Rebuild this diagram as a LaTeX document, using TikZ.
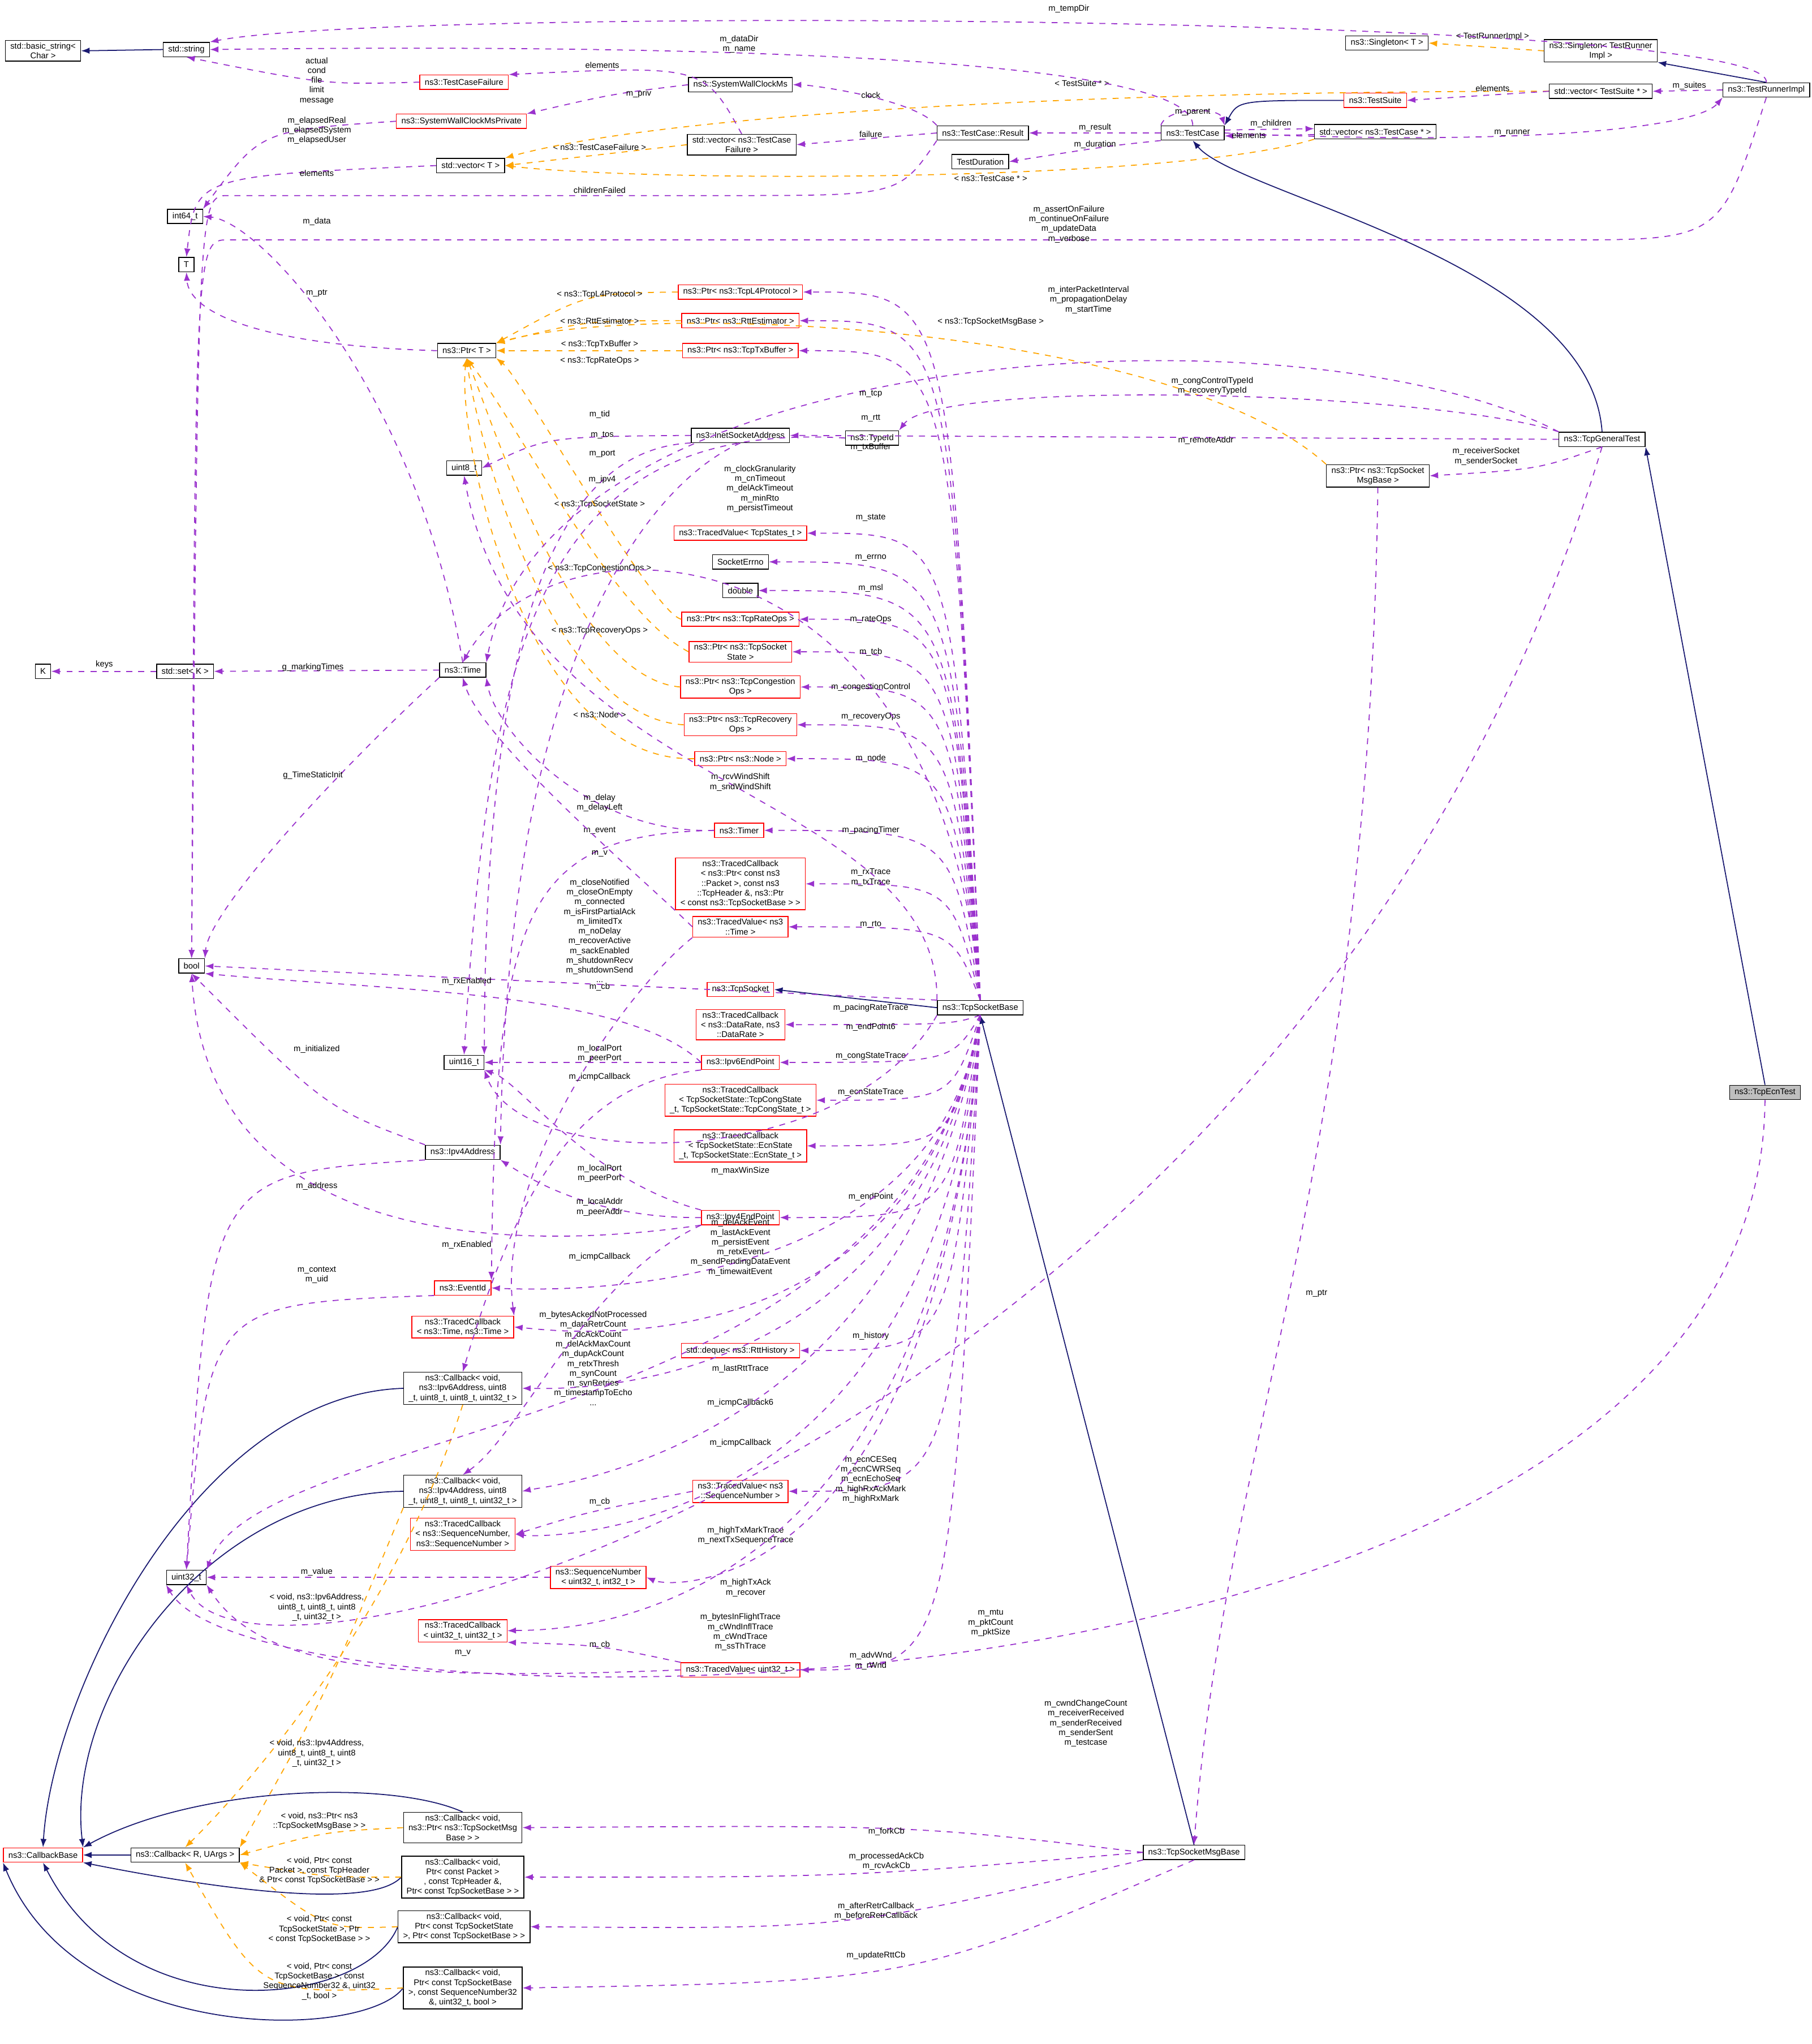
\documentclass[tikz,border=0pt]{standalone}
\usepackage{fontspec}
\setmainfont{Liberation Sans}
\usepackage{tikz}
\usetikzlibrary{arrows.meta}
\definecolor{depcol}{HTML}{9A32CD}
\definecolor{tplcol}{HTML}{FFA500}
\definecolor{inhcol}{HTML}{191970}

\begin{document}
\begin{tikzpicture}[x=0.023cm, y=-0.023cm, line width=0.5pt,
    font=\fontsize{4.2}{4.9}\selectfont,
    cls/.style={draw=black, fill=white, line width=0.4pt, align=center, inner xsep=2.5pt, inner ysep=1.2pt, minimum height=7.2pt},
    clsred/.style={cls, draw=red},
    lbl/.style={align=center, inner sep=0.5pt},
    dep/.style={draw=depcol, dashed, -{Latex[length=1.5mm,width=1.1mm]}},
    tpl/.style={draw=tplcol, dashed, -{Latex[length=1.5mm,width=1.1mm]}},
    inh/.style={draw=inhcol, -{Latex[length=1.5mm,width=1.1mm]}}]
            \useasboundingbox (0,0) rectangle (1390,1568);

            % test framework
            \node[cls] (bstr) at (33,39) {std::basic\_string\textless\\Char \textgreater};
            \node[cls] (str) at (143,38) {std::string};
            \node[clsred] (tcf) at (356,63) {ns3::TestCaseFailure};
            \node[cls] (swc) at (568,65) {ns3::SystemWallClockMs};
            \node[clsred] (swcp) at (354,93) {ns3::SystemWallClockMsPrivate};
            \node[cls] (vtcf) at (569,111) {std::vector\textless{} ns3::TestCase\\Failure \textgreater};
            \node[cls] (res) at (754,102) {ns3::TestCase::Result};
            \node[cls] (vecT) at (361,127) {std::vector\textless{} T \textgreater};
            \node[cls] (i64) at (142,166) {int64\_t};
            \node[cls] (T) at (143,203) {T};
            \node[cls] (tc) at (915,102) {ns3::TestCase};
            \node[cls] (tdur) at (752,124) {TestDuration};
            \node[cls] (vtc) at (1055,101) {std::vector\textless{} ns3::TestCase * \textgreater};
            \node[clsred] (ts) at (1055,77) {ns3::TestSuite};
            \node[cls] (sgT) at (1064,33) {ns3::Singleton\textless{} T \textgreater};
            \node[cls] (sgR) at (1228,39) {ns3::Singleton\textless{} TestRunner\\Impl \textgreater};
            \node[cls] (vts) at (1228,70) {std::vector\textless{} TestSuite * \textgreater};
            \node[cls] (tri) at (1355,69) {ns3::TestRunnerImpl};

            % tcp classes
            \node[cls] (ptrT) at (358,269) {ns3::Ptr\textless{} T \textgreater};
            \node[clsred] (pL4) at (568,224) {ns3::Ptr\textless{} ns3::TcpL4Protocol \textgreater};
            \node[clsred] (pRtt) at (568,246) {ns3::Ptr\textless{} ns3::RttEstimator \textgreater};
            \node[clsred] (pTx) at (568,269) {ns3::Ptr\textless{} ns3::TcpTxBuffer \textgreater};
            \node[cls] (inet) at (568,334) {ns3::InetSocketAddress};
            \node[cls] (tid) at (669,336) {ns3::TypeId};
            \node[cls] (tgt) at (1229,337) {ns3::TcpGeneralTest};
            \node[cls] (pMsg) at (1057,365) {ns3::Ptr\textless{} ns3::TcpSocket\\MsgBase \textgreater};
            \node[cls] (u8) at (356,359) {uint8\_t};
            \node[clsred] (tvSt) at (568,409) {ns3::TracedValue\textless{} TcpStates\_t \textgreater};
            \node[cls] (serr) at (568,431) {SocketErrno};
            \node[cls] (dbl) at (568,453) {double};
            \node[clsred] (pRate) at (568,475) {ns3::Ptr\textless{} ns3::TcpRateOps \textgreater};
            \node[clsred] (pTcb) at (568,500) {ns3::Ptr\textless{} ns3::TcpSocket\\State \textgreater};
            \node[clsred] (pCc) at (568,527) {ns3::Ptr\textless{} ns3::TcpCongestion\\Ops \textgreater};
            \node[clsred] (pRec) at (568,556) {ns3::Ptr\textless{} ns3::TcpRecovery\\Ops \textgreater};
            \node[clsred] (pNode) at (568,582) {ns3::Ptr\textless{} ns3::Node \textgreater};
            \node[cls] (K) at (33,515) {K};
            \node[cls] (setK) at (142,515) {std::set\textless{} K \textgreater};
            \node[cls] (time) at (355,514) {ns3::Time};
            \node[clsred] (timer) at (567,637) {ns3::Timer};
            \node[clsred] (tcRx) at (568,678) {ns3::TracedCallback\\\textless{} ns3::Ptr\textless{} const ns3\\::Packet \textgreater, const ns3\\::TcpHeader \&, ns3::Ptr\\\textless{} const ns3::TcpSocketBase \textgreater{} \textgreater};
            \node[clsred] (tvTime) at (568,711) {ns3::TracedValue\textless{} ns3\\::Time \textgreater};
            \node[cls] (bool) at (147,741) {bool};
            \node[clsred] (tsock) at (568,759) {ns3::TcpSocket};
            \node[cls] (tsb) at (752,773) {ns3::TcpSocketBase};
            \node[clsred] (tcRate) at (568,786) {ns3::TracedCallback\\\textless{} ns3::DataRate, ns3\\::DataRate \textgreater};
            \node[clsred] (ip6ep) at (568,815) {ns3::Ipv6EndPoint};
            \node[cls] (u16) at (356,815) {uint16\_t};
            \node[clsred] (tcCong) at (568,844) {ns3::TracedCallback\\\textless{} TcpSocketState::TcpCongState\\\_t, TcpSocketState::TcpCongState\_t \textgreater};
            \node[clsred] (tcEcn) at (568,879) {ns3::TracedCallback\\\textless{} TcpSocketState::EcnState\\\_t, TcpSocketState::EcnState\_t \textgreater};
            \node[cls] (ip4a) at (355,884) {ns3::Ipv4Address};
            \node[clsred] (ip4ep) at (568,934) {ns3::Ipv4EndPoint};
            \node[clsred] (evt) at (355,988) {ns3::EventId};
            \node[clsred] (tcTime) at (355,1018) {ns3::TracedCallback\\\textless{} ns3::Time, ns3::Time \textgreater};
            \node[clsred] (dq) at (568,1036) {std::deque\textless{} ns3::RttHistory \textgreater};
            \node[cls] (cb6) at (355,1065) {ns3::Callback\textless{} void,\\ns3::Ipv6Address, uint8\\\_t, uint8\_t, uint8\_t, uint32\_t \textgreater};
            \node[cls] (cb4) at (355,1144) {ns3::Callback\textless{} void,\\ns3::Ipv4Address, uint8\\\_t, uint8\_t, uint8\_t, uint32\_t \textgreater};
            \node[clsred] (tvSeq) at (568,1144) {ns3::TracedValue\textless{} ns3\\::SequenceNumber \textgreater};
            \node[clsred] (tcSeq) at (355,1177) {ns3::TracedCallback\\\textless{} ns3::SequenceNumber,\\ns3::SequenceNumber \textgreater};
            \node[cls] (u32) at (143,1210) {uint32\_t};
            \node[clsred] (seq) at (459,1210) {ns3::SequenceNumber\\\textless{} uint32\_t, int32\_t \textgreater};
            \node[clsred] (tcU32) at (355,1251) {ns3::TracedCallback\\\textless{} uint32\_t, uint32\_t \textgreater};
            \node[clsred] (tvU32) at (568,1281) {ns3::TracedValue\textless{} uint32\_t \textgreater};
            \node[cls, fill=black!25] (ecn) at (1354,838) {ns3::TcpEcnTest};
            \node[clsred] (cbb) at (33,1423) {ns3::CallbackBase};
            \node[cls] (cbR) at (142,1423) {ns3::Callback\textless{} R, UArgs \textgreater};
            \node[cls] (cbMsg) at (355,1402) {ns3::Callback\textless{} void,\\ns3::Ptr\textless{} ns3::TcpSocketMsg\\Base \textgreater{} \textgreater};
            \node[cls] (cbPkt) at (355,1440) {ns3::Callback\textless{} void,\\Ptr\textless{} const Packet \textgreater\\, const TcpHeader \&,\\Ptr\textless{} const TcpSocketBase \textgreater{} \textgreater};
            \node[cls] (cbSt) at (356,1478) {ns3::Callback\textless{} void,\\Ptr\textless{} const TcpSocketState\\\textgreater, Ptr\textless{} const TcpSocketBase \textgreater{} \textgreater};
            \node[cls] (cbRtt) at (355,1525) {ns3::Callback\textless{} void,\\Ptr\textless{} const TcpSocketBase\\\textgreater, const SequenceNumber32\\\&, uint32\_t, bool \textgreater};
            \node[cls] (msg) at (916,1421) {ns3::TcpSocketMsgBase};

            % inheritance
            \draw[inh] (str.west) -- (bstr.east);
            \draw[inh] (tri.north) -- (sgR.south east);
            \draw[inh] (ts.west) .. controls (950,77) .. (tc.north east);
            \draw[inh] (tgt.north) .. controls (1220,200) and (950,150) .. (tc.south);
            \draw[inh] (ecn.north) -- (tgt.south east);
            \draw[inh] (msg.north) -- (tsb.south);
            \draw[inh] (tsb.west) -- (tsock.east);
            \draw[inh] (cbR.west) -- (cbb.east);
            \draw[inh] (cb6.west) .. controls (150,1070) and (40,1300) .. (cbb.north);
            \draw[inh] (cb4.west) .. controls (160,1145) and (50,1300) .. (cbb.north east);
            \draw[inh] (cbMsg.north) .. controls (300,1365) and (150,1370) .. (cbb.north east);
            \draw[inh] (cbPkt.west) .. controls (280,1470) and (120,1440) .. (cbb.south east);
            \draw[inh] (cbSt.west) .. controls (280,1540) and (100,1560) .. (cbb.south);
            \draw[inh] (cbRtt.west) .. controls (280,1565) and (60,1570) .. (cbb.south west);

            % template instances
            \draw[tpl] (sgR.west) -- (sgT.east) node[lbl] at (1145,28) {\textless{} TestRunnerImpl \textgreater};
            \draw[tpl] (vtcf.west) -- (vecT.east) node[lbl] at (460,113) {\textless{} ns3::TestCaseFailure \textgreater};
            \draw[tpl] (vts.west) .. controls (800,70) and (500,90) .. (vecT.north east) node[lbl] at (830,64) {\textless{} TestSuite * \textgreater};
            \draw[tpl] (vtc.south west) .. controls (900,140) and (500,140) .. (vecT.east) node[lbl] at (760,137) {\textless{} ns3::TestCase * \textgreater};
            \draw[tpl] (pL4.west) .. controls (450,225) .. (ptrT.north east) node[lbl] at (460,226) {\textless{} ns3::TcpL4Protocol \textgreater};
            \draw[tpl] (pRtt.west) .. controls (450,246) .. (ptrT.north east) node[lbl] at (460,246) {\textless{} ns3::RttEstimator \textgreater};
            \draw[tpl] (pTx.west) -- (ptrT.east) node[lbl] at (460,264) {\textless{} ns3::TcpTxBuffer \textgreater};
            \draw[tpl] (pRate.west) .. controls (500,470) and (400,290) .. (ptrT.south east) node[lbl] at (460,277) {\textless{} ns3::TcpRateOps \textgreater};
            \draw[tpl] (pTcb.west) .. controls (470,470) and (400,330) .. (ptrT.south) node[lbl] at (460,387) {\textless{} ns3::TcpSocketState \textgreater};
            \draw[tpl] (pCc.west) .. controls (440,520) and (380,330) .. (ptrT.south) node[lbl] at (460,436) {\textless{} ns3::TcpCongestionOps \textgreater};
            \draw[tpl] (pRec.west) .. controls (420,550) and (365,330) .. (ptrT.south) node[lbl] at (460,484) {\textless{} ns3::TcpRecoveryOps \textgreater};
            \draw[tpl] (pNode.west) .. controls (400,585) and (350,330) .. (ptrT.south) node[lbl] at (460,548) {\textless{} ns3::Node \textgreater};
            \draw[tpl] (pMsg.north west) .. controls (900,250) and (500,230) .. (ptrT.north east) node[lbl] at (760,247) {\textless{} ns3::TcpSocketMsgBase \textgreater};
            \draw[tpl] (cb6.south) .. controls (300,1250) and (180,1380) .. (cbR.north) node[lbl] at (243,1233) {\textless{} void, ns3::Ipv6Address,\\uint8\_t, uint8\_t, uint8\\\_t, uint32\_t \textgreater};
            \draw[tpl] (cb4.south west) .. controls (250,1300) .. (cbR.north east) node[lbl] at (243,1345) {\textless{} void, ns3::Ipv4Address,\\uint8\_t, uint8\_t, uint8\\\_t, uint32\_t \textgreater};
            \draw[tpl] (cbMsg.west) .. controls (250,1405) .. (cbR.east) node[lbl] at (245,1397) {\textless{} void, ns3::Ptr\textless{} ns3\\::TcpSocketMsgBase \textgreater{} \textgreater};
            \draw[tpl] (cbPkt.west) .. controls (250,1440) .. (cbR.south east) node[lbl] at (245,1435) {\textless{} void, Ptr\textless{} const\\Packet \textgreater, const TcpHeader\\\& Ptr\textless{} const TcpSocketBase \textgreater{} \textgreater};
            \draw[tpl] (cbSt.west) .. controls (250,1480) .. (cbR.south east) node[lbl] at (245,1480) {\textless{} void, Ptr\textless{} const\\TcpSocketState \textgreater, Ptr\\\textless{} const TcpSocketBase \textgreater{} \textgreater};
            \draw[tpl] (cbRtt.west) .. controls (200,1530) .. (cbR.south) node[lbl] at (245,1520) {\textless{} void, Ptr\textless{} const\\TcpSocketBase \textgreater, const\\SequenceNumber32 \&, uint32\\\_t, bool \textgreater};

            % members, test side
            \draw[dep] (tcf.west) .. controls (250,65) .. (str.south) node[lbl] at (243,62) {actual\\cond\\file\\limit\\message};
            \draw[dep] (tc.north) .. controls (915,35) and (400,35) .. (str.east) node[lbl] at (567,34) {m\_dataDir\\m\_name};
            \draw[dep] (tri.north) .. controls (1360,10) and (300,5) .. (str.north east) node[lbl] at (820,7) {m\_tempDir};
            \draw[dep] (tc.east) .. controls (1150,112) and (1300,100) .. (tri.south west) node[lbl] at (1160,102) {m\_runner};
            \draw[dep] (tri.west) -- (vts.east) node[lbl] at (1296,66) {m\_suites};
            \draw[dep] (vts.west) -- (ts.east) node[lbl] at (1145,68) {elements};
            \draw[dep] (tc.north west) .. controls (895,82) and (935,82) .. (tc.north east) node[lbl] at (915,86) {m\_parent};
            \draw[dep] ([yshift=1.5pt]tc.east) -- ([yshift=1.5pt]vtc.west) node[lbl] at (975,95) {m\_children};
            \draw[dep] ([yshift=-1.5pt]vtc.west) -- ([yshift=-1.5pt]tc.east) node[lbl] at (958,104) {elements};
            \draw[dep] (tc.west) -- (res.east) node[lbl] at (840,98) {m\_result};
            \draw[dep] (tc.south west) .. controls (850,112) .. (tdur.east) node[lbl] at (840,111) {m\_duration};
            \draw[dep] (res.north west) .. controls (700,75) and (620,65) .. (swc.east) node[lbl] at (668,73) {clock};
            \draw[dep] (res.west) -- (vtcf.east) node[lbl] at (668,103) {failure};
            \draw[dep] (res.south west) .. controls (690,150) .. (560,150) -- (175,150) .. controls (152,150) .. (bool.north) node[lbl] at (460,146) {childrenFailed};
            \draw[dep] (vtcf.north) .. controls (540,50) .. (tcf.north east) node[lbl] at (462,50) {elements};
            \draw[dep] (swc.west) .. controls (470,72) .. (swcp.north east) node[lbl] at (490,72) {m\_priv};
            \draw[dep] (swcp.west) .. controls (200,100) .. (i64.north east) node[lbl] at (243,100) {m\_elapsedReal\\m\_elapsedSystem\\m\_elapsedUser};
            \draw[dep] (vecT.west) .. controls (150,135) .. (T.north) node[lbl] at (243,133) {elements};
            \draw[dep] (tri.south) .. controls (1320,184) .. (1200,184) -- (175,184) .. controls (150,184) .. (bool.north) node[lbl] at (820,172) {m\_assertOnFailure\\m\_continueOnFailure\\m\_updateData\\m\_verbose};

            % members, tcp side
            \draw[dep] (time.north) .. controls (320,300) and (200,170) .. (i64.east) node[lbl] at (243,170) {m\_data};
            \draw[dep] (ptrT.west) .. controls (200,265) and (145,240) .. (T.south) node[lbl] at (243,225) {m\_ptr};
            \draw[dep] (setK.west) -- (K.east) node[lbl] at (80,510) {keys};
            \draw[dep] (time.west) -- (setK.east) node[lbl] at (240,512) {g\_markingTimes};
            \draw[dep] (time.south west) .. controls (250,600) and (160,700) .. (bool.north east) node[lbl] at (240,595) {g\_TimeStaticInit};
            \draw[dep] (tid.west) .. controls (410,322) and (375,500) .. (u16.north) node[lbl] at (460,318) {m\_tid};
            \draw[dep] (inet.west) .. controls (420,335) .. (u8.east) node[lbl] at (462,334) {m\_tos};
            \draw[dep] (inet.south west) .. controls (420,345) and (372,500) .. (u16.north east) node[lbl] at (462,348) {m\_port};
            \draw[dep] (inet.south) .. controls (500,370) and (390,500) .. (ip4a.north east) node[lbl] at (462,368) {m\_ipv4};
            \draw[dep] (tgt.west) -- (inet.east) node[lbl] at (925,338) {m\_remoteAddr};
            \draw[dep] (tgt.north west) .. controls (1100,300) and (720,290) .. (tid.north east) node[lbl] at (930,296) {m\_congControlTypeId\\m\_recoveryTypeId};
            \draw[dep] (tgt.north west) .. controls (1000,230) and (420,260) .. (time.north east) node[lbl] at (835,230) {m\_interPacketInterval\\m\_propagationDelay\\m\_startTime};
            \draw[dep] (tgt.south) .. controls (1180,360) .. (pMsg.east) node[lbl] at (1140,350) {m\_receiverSocket\\m\_senderSocket};
            \draw[dep] (pMsg.south) .. controls (1050,900) and (940,1100) .. (msg.north) node[lbl] at (1010,992) {m\_ptr};
            \draw[dep] (tgt.south) .. controls (1000,1100) and (200,1330) .. (u32.south) node[lbl] at (760,1245) {m\_mtu\\m\_pktCount\\m\_pktSize};
            \draw[dep] (ecn.south) .. controls (1350,1340) and (200,1340) .. (u32.south west) node[lbl] at (833,1322) {m\_cwndChangeCount\\m\_receiverReceived\\m\_senderReceived\\m\_senderSent\\m\_testcase};

            \newcommand{\fanup}[4]{
                \draw[dep] (tsb.north) .. controls (730,#2) .. (#1.east) node[lbl] at (668,#4) {#3};
            }
            \newcommand{\fandown}[4]{
                \draw[dep] (tsb.south) .. controls (730,#2) .. (#1.east) node[lbl] at (668,#4) {#3};
            }
            \fanup{pL4}{224}{m\_tcp}{302}
            \fanup{pRtt}{246}{m\_rtt}{321}
            \fanup{pTx}{269}{m\_txBuffer}{343}
            \fanup{tvSt}{409}{m\_state}{397}
            \fanup{serr}{431}{m\_errno}{428}
            \fanup{dbl}{453}{m\_msl}{451}
            \fanup{pRate}{475}{m\_rateOps}{475}
            \fanup{pTcb}{500}{m\_tcb}{500}
            \fanup{pCc}{527}{m\_congestionControl}{527}
            \fanup{pRec}{556}{m\_recoveryOps}{550}
            \fanup{pNode}{582}{m\_node}{582}
            \fanup{timer}{637}{m\_pacingTimer}{637}
            \fanup{tcRx}{678}{m\_rxTrace\\m\_txTrace}{673}
            \fanup{tvTime}{711}{m\_rto}{709}
            \fandown{tcRate}{786}{m\_pacingRateTrace}{773}
            \fandown{ip6ep}{815}{m\_endPoint6}{788}
            \fandown{tcCong}{844}{m\_congStateTrace}{810}
            \fandown{tcEcn}{879}{m\_ecnStateTrace}{838}
            \fandown{ip4ep}{934}{m\_endPoint}{918}
            \fandown{dq}{1036}{m\_history}{1025}
            \fandown{tvSeq}{1144}{m\_ecnCESeq\\m\_ecnCWRSeq\\m\_ecnEchoSeq\\m\_highRxAckMark\\m\_highRxMark}{1135}
            \fandown{tvU32}{1281}{m\_advWnd\\m\_rWnd}{1274}

            \draw[dep] (tsb.north west) .. controls (720,605) and (400,610) .. (u8.south) node[lbl] at (568,600) {m\_rcvWindShift\\m\_sndWindShift};
            \draw[dep] (tsb.north) .. controls (720,390) and (420,390) .. (time.north) node[lbl] at (583,375) {m\_clockGranularity\\m\_cnTimeout\\m\_delAckTimeout\\m\_minRto\\m\_persistTimeout};
            \draw[dep] (tsb.north west) -- (bool.east) node[lbl] at (460,714) {m\_closeNotified\\m\_closeOnEmpty\\m\_connected\\m\_isFirstPartialAck\\m\_limitedTx\\m\_noDelay\\m\_recoverActive\\m\_sackEnabled\\m\_shutdownRecv\\m\_shutdownSend\\...};
            \draw[dep] (tsb.south west) .. controls (650,900) and (400,900) .. (u16.south east) node[lbl] at (568,898) {m\_maxWinSize};
            \draw[dep] (tsb.south) .. controls (720,1000) and (420,990) .. (evt.east) node[lbl] at (568,957) {m\_delAckEvent\\m\_lastAckEvent\\m\_persistEvent\\m\_retxEvent\\m\_sendPendingDataEvent\\m\_timewaitEvent};
            \draw[dep] (tsb.south) .. controls (700,1100) and (200,1090) .. (u32.north east) node[lbl] at (455,1042) {m\_bytesAckedNotProcessed\\m\_dataRetrCount\\m\_dcAckCount\\m\_delAckMaxCount\\m\_dupAckCount\\m\_retxThresh\\m\_synCount\\m\_synRetries\\m\_timestampToEcho\\...};
            \draw[dep] (tsb.south) .. controls (700,1060) and (420,1020) .. (tcTime.east) node[lbl] at (568,1050) {m\_lastRttTrace};
            \draw[dep] (tsb.south) .. controls (700,1080) and (420,1065) .. (cb6.east) node[lbl] at (568,1076) {m\_icmpCallback6};
            \draw[dep] (tsb.south) .. controls (700,1110) and (420,1140) .. (cb4.east) node[lbl] at (568,1107) {m\_icmpCallback};
            \draw[dep] (tsb.south) .. controls (720,1180) and (420,1180) .. (tcSeq.east) node[lbl] at (572,1178) {m\_highTxMarkTrace\\m\_nextTxSequenceTrace};
            \draw[dep] (tsb.south) .. controls (720,1220) and (520,1220) .. (seq.east) node[lbl] at (572,1218) {m\_highTxAck\\m\_recover};
            \draw[dep] (tsb.south) .. controls (720,1260) and (420,1250) .. (tcU32.east) node[lbl] at (568,1252) {m\_bytesInFlightTrace\\m\_cWndInflTrace\\m\_cWndTrace\\m\_ssThTrace};

            \draw[dep] (timer.west) .. controls (450,640) and (380,560) .. (time.south east) node[lbl] at (460,616) {m\_delay\\m\_delayLeft};
            \draw[dep] (timer.west) .. controls (400,640) and (380,700) .. (evt.north east) node[lbl] at (460,637) {m\_event};
            \draw[dep] (tvTime.west) .. controls (500,680) and (370,570) .. (time.south) node[lbl] at (460,655) {m\_v};
            \draw[dep] (tvTime.south west) .. controls (480,760) and (380,900) .. (tcTime.north east) node[lbl] at (460,757) {m\_cb};
            \draw[dep] (ip6ep.west) .. controls (480,760) and (300,760) .. (bool.south east) node[lbl] at (358,753) {m\_rxEnabled};
            \draw[dep] (ip6ep.west) -- (u16.east) node[lbl] at (460,808) {m\_localPort\\m\_peerPort};
            \draw[dep] (ip6ep.south west) .. controls (450,830) and (400,900) .. (cb6.north) node[lbl] at (460,826) {m\_icmpCallback};
            \draw[dep] (ip4ep.north west) .. controls (450,905) and (400,830) .. (u16.south east) node[lbl] at (460,900) {m\_localPort\\m\_peerPort};
            \draw[dep] (ip4ep.west) .. controls (450,935) and (400,900) .. (ip4a.south east) node[lbl] at (460,926) {m\_localAddr\\m\_peerAddr};
            \draw[dep] (ip4ep.south west) .. controls (400,960) and (160,960) .. (bool.south) node[lbl] at (358,955) {m\_rxEnabled};
            \draw[dep] (ip4ep.south west) .. controls (450,980) and (400,1100) .. (cb4.north) node[lbl] at (460,964) {m\_icmpCallback};
            \draw[dep] (ip4a.north west) .. controls (250,850) .. (bool.south) node[lbl] at (243,805) {m\_initialized};
            \draw[dep] (ip4a.south west) .. controls (160,900) .. (u32.north) node[lbl] at (243,910) {m\_address};
            \draw[dep] (evt.south west) .. controls (160,1000) .. (u32.north) node[lbl] at (243,978) {m\_context\\m\_uid};
            \draw[dep] (tvSeq.west) .. controls (450,1160) .. (tcSeq.east) node[lbl] at (460,1152) {m\_cb};
            \draw[dep] (seq.west) -- (u32.east) node[lbl] at (243,1206) {m\_value};
            \draw[dep] (tvU32.west) .. controls (300,1290) and (200,1280) .. (u32.south east) node[lbl] at (355,1268) {m\_v};
            \draw[dep] (tvU32.north west) .. controls (460,1262) .. (tcU32.south east) node[lbl] at (460,1262) {m\_cb};
            \draw[dep] (msg.west) .. controls (700,1400) .. (cbMsg.east) node[lbl] at (680,1405) {m\_forkCb};
            \draw[dep] (msg.west) .. controls (650,1440) .. (cbPkt.east) node[lbl] at (680,1428) {m\_processedAckCb\\m\_rcvAckCb};
            \draw[dep] (msg.south west) .. controls (650,1480) .. (cbSt.east) node[lbl] at (672,1466) {m\_afterRetrCallback\\m\_beforeRetrCallback};
            \draw[dep] (msg.south) .. controls (700,1520) .. (cbRtt.east) node[lbl] at (672,1500) {m\_updateRttCb};
\end{tikzpicture}
\end{document}
